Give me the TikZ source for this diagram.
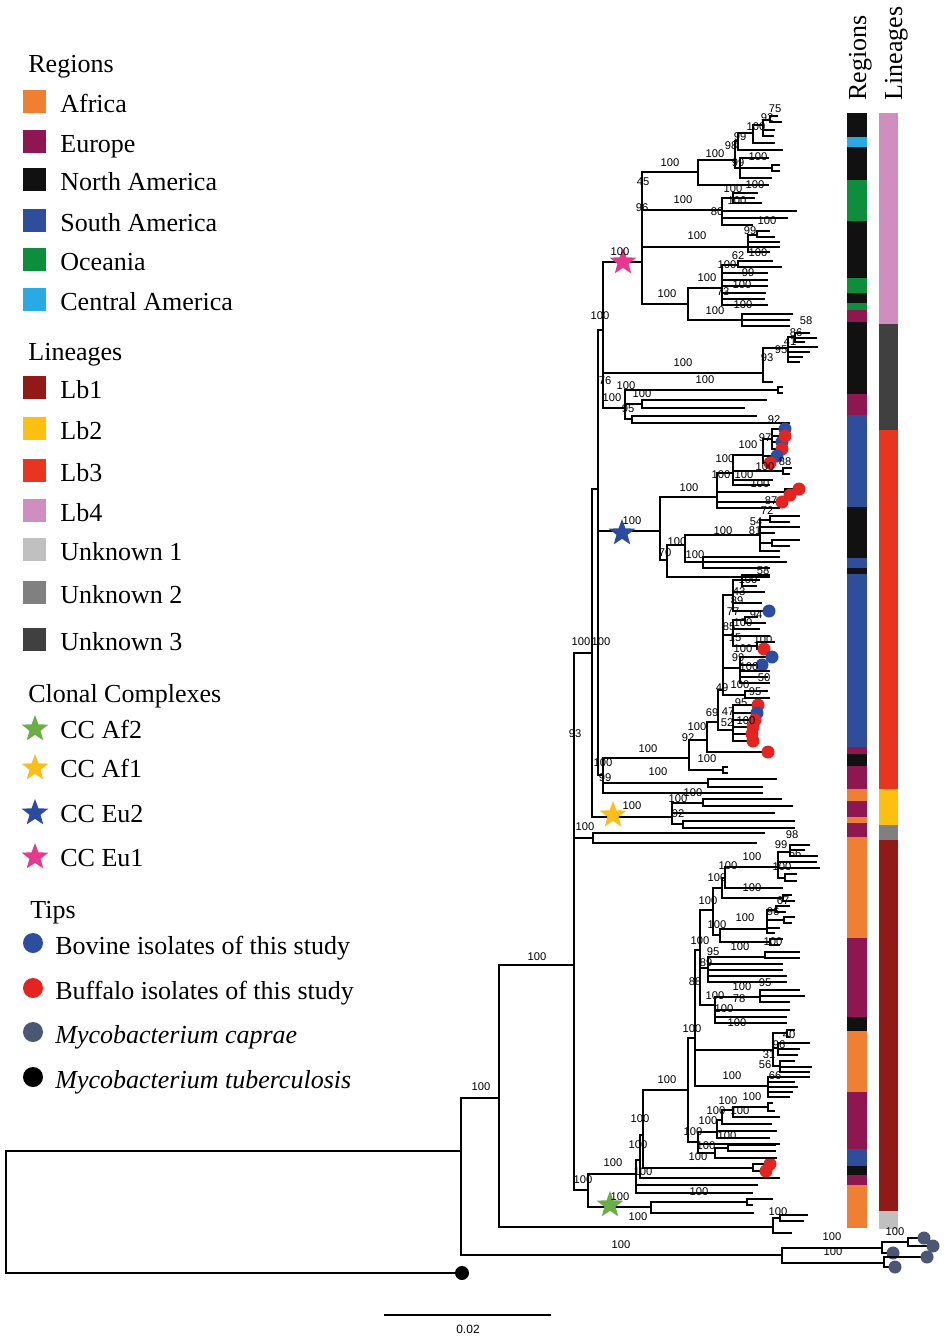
\documentclass[tikz,border=0pt]{standalone}
\usepackage{fontspec}
\setmainfont{Liberation Serif}
\newfontfamily\bsfont{Liberation Sans}
\usetikzlibrary{shapes.geometric}

\definecolor{cafr}{HTML}{EF7F33}
\definecolor{ceur}{HTML}{8E1651}
\definecolor{cnam}{HTML}{111111}
\definecolor{csam}{HTML}{2E4E9C}
\definecolor{cocn}{HTML}{0E8E3C}
\definecolor{ccam}{HTML}{2AAAE2}
\definecolor{clbone}{HTML}{921A16}
\definecolor{clbtwo}{HTML}{FCC010}
\definecolor{clbthree}{HTML}{E8351F}
\definecolor{clbfour}{HTML}{CF8DC0}
\definecolor{cunkone}{HTML}{C0C0C0}
\definecolor{cunktwo}{HTML}{808080}
\definecolor{cunkthree}{HTML}{404040}
\definecolor{staraf2}{HTML}{6CAE45}
\definecolor{staraf1}{HTML}{FBBE18}
\definecolor{stareu2}{HTML}{2B4B9E}
\definecolor{stareu1}{HTML}{E8388E}
\definecolor{bovine}{HTML}{2C4DA0}
\definecolor{buffalo}{HTML}{E42421}
\definecolor{caprae}{HTML}{4A5874}

\tikzset{
  br/.style={line width=0.9pt},
  bs/.style={font=\bsfont\fontsize{5.6}{6}\selectfont,inner sep=0pt},
  tipdot/.style={circle,inner sep=0pt,minimum size=6.5pt},
  ccstar/.style={star,star points=5,star point ratio=2.4,inner sep=0pt,minimum size=14pt},
  lgtxt/.style={font=\fontsize{13}{15}\selectfont,anchor=base west,inner sep=0pt},
  lgsq/.style={rectangle,inner sep=0pt,minimum size=11.5pt},
  lgdot/.style={circle,inner sep=0pt,minimum size=10pt}
}

% node of the tree: name, x, y, parent
\newcommand\nd[4]{\coordinate (#1) at (#2,#3);\draw[br] (#4) |- (#1);}
% tips: parent, list of y/x
\newcommand\tps[2]{\foreach \ty/\tx in {#2}{\coordinate (tp) at (\tx,\ty);\draw[br] (#1) |- (tp);}}
% tips with a dot: parent, colour, list of y/x
\newcommand\dtps[3]{\foreach \ty/\tx in {#3}{\coordinate (tp) at (\tx,\ty);\draw[br] (#1) |- (tp);\node[tipdot,fill=#2] (dot) at (tp) {};}}

\begin{document}
\begin{tikzpicture}[x=0.5pt,y=-0.5pt]
\useasboundingbox (0,0) rectangle (949,1339);

% legend
\node[lgtxt] (hreg) at (28,72) {Regions};
\foreach \ly/\lc/\lt [count=\i] in {103/cafr/Africa,143/ceur/Europe,181/cnam/North America,222/csam/South America,261/cocn/Oceania,301/ccam/Central America}{
  \node[lgsq,fill=\lc] (rgs\i) at (34.5,\ly-2) {};
  \node[lgtxt] (rgt\i) at (60,\ly+9) {\lt};
}
\node[lgtxt] (hlin) at (28,360) {Lineages};
\foreach \ly/\lc/\lt [count=\i] in {389/clbone/Lb1,430/clbtwo/Lb2,472/clbthree/Lb3,512/clbfour/Lb4,551/cunkone/Unknown 1,594/cunktwo/Unknown 2,641/cunkthree/Unknown 3}{
  \node[lgsq,fill=\lc] (lns\i) at (34.5,\ly-2) {};
  \node[lgtxt] (lnt\i) at (60,\ly+9) {\lt};
}
\node[lgtxt] (hcc) at (28,702) {Clonal Complexes};
\foreach \ly/\lc/\lt [count=\i] in {729/staraf2/CC Af2,768/staraf1/CC Af1,813/stareu2/CC Eu2,857/stareu1/CC Eu1}{
  \node[ccstar,fill=\lc] (ccs\i) at (35,\ly) {};
  \node[lgtxt] (cct\i) at (60,\ly+9) {\lt};
}
\node[lgtxt] (htip) at (30,918) {Tips};
\node[lgdot,fill=bovine] (tpd1) at (33,943) {};
\node[lgtxt] (tpt1) at (55,954) {Bovine isolates of this study};
\node[lgdot,fill=buffalo] (tpd2) at (33,988) {};
\node[lgtxt] (tpt2) at (55,999) {Buffalo isolates of this study};
\node[lgdot,fill=caprae] (tpd3) at (33,1032) {};
\node[lgtxt] (tpt3) at (55,1043) {\itshape Mycobacterium caprae};
\node[lgdot,fill=black] (tpd4) at (33,1077) {};
\node[lgtxt] (tpt4) at (55,1088) {\itshape Mycobacterium tuberculosis};

% colour bars
\node[lgtxt,rotate=90] (breg) at (866,101) {Regions};
\node[lgtxt,rotate=90] (blin) at (902,101) {Lineages};
\foreach \ya/\yb/\bc in {113/137/cnam,137/147/ccam,147/180/cnam,180/221/cocn,221/278/cnam,278/293/cocn,293/303/cnam,303/310/cocn,310/322/ceur,322/394/cnam,394/415/ceur,415/507/csam,507/558/cnam,558/568/csam,568/574/cnam,574/747/csam,747/754/ceur,754/766/cnam,766/789/ceur,789/801/cafr,801/817/ceur,817/823/cafr,823/837/ceur,837/938/cafr,938/1017/ceur,1017/1031/cnam,1031/1092/cafr,1092/1149/ceur,1149/1166/csam,1166/1175/cnam,1175/1185/ceur,1185/1228/cafr}
  \fill[\bc] (847,\ya) rectangle (867,\yb);
\foreach \ya/\yb/\bc in {113/324/clbfour,324/430/cunkthree,430/789/clbthree,789/825/clbtwo,825/840/cunktwo,840/1211/clbone,1211/1229/cunkone}
  \fill[\bc] (879,\ya) rectangle (898,\yb);

% backbone and outgroups
\coordinate (root) at (6,1212);
\nd{n461}{461}{1151}{root}
\nd{mtb}{462}{1273}{root}
\node[tipdot,fill=black,minimum size=7pt] (mtbdot) at (mtb) {};
\nd{cap}{782}{1255}{n461}
\nd{capa}{882}{1248}{cap}
\nd{capb}{884}{1263}{cap}
\nd{capc}{908}{1242}{capa}
\dtps{capc}{caprae}{1238/924,1246/933}
\dtps{capa}{caprae}{1253/893}
\dtps{capb}{caprae}{1257/927,1267/895}
\nd{n499}{499}{1098}{n461}
\nd{ua}{773}{1227}{n499}
\nd{ub}{780}{1218}{ua}
\tps{ub}{1215/808,1221/804}
\tps{ua}{1233/792}
\nd{n574}{574}{965}{n499}
\nd{n592}{592}{653}{n574}
\nd{ut}{593}{838}{n574}
\tps{ut}{833/765,843/757}
\nd{n588}{588}{1190}{n574}

% Lb1 and CC Af2
\nd{lba}{636}{1174}{n588}
\nd{afb}{651}{1207}{n588}
\nd{afc}{747}{1202}{afb}
\tps{afc}{1199/773,1205/753}
\tps{afb}{1213/754}
\nd{lbb}{640}{1160}{lba}
\tps{lba}{1185/758,1193/753}
\nd{lbc}{643}{1135}{lbb}
\tps{lbb}{1178/780}
\nd{lbd}{753}{1168}{lbc}
\dtps{lbd}{buffalo}{1164/770,1171/766}
\nd{lbe}{688}{1090}{lbc}
\nd{lbf}{695}{1038}{lbe}
\nd{lbg}{698}{1142}{lbe}
\nd{lbh}{717}{1132}{lbg}
\tps{lbg}{1144/780}
\nd{lbi}{715}{1153}{lbg}
\nd{lbj}{722}{1120}{lbh}
\tps{lbh}{1131/777,1138/770}
\nd{lbk}{733}{1110}{lbj}
\tps{lbj}{1124/772}
\nd{lbl}{768}{1107}{lbk}
\tps{lbl}{1103/773,1111/775}
\tps{lbk}{1117/780}
\nd{lbm}{728}{1148}{lbi}
\tps{lbm}{1145/776,1151/776}
\tps{lbi}{1158/777}
\nd{lbn}{700}{950}{lbf}
\nd{lbo}{773}{1050}{lbf}
\nd{lbp}{768}{1086}{lbf}
\tps{lbp}{1077/810,1082/795,1087/798,1092/793,1097/790}
\nd{lbq}{787}{1033}{lbo}
\tps{lbq}{1030/795,1037/790}
\nd{lbr}{778}{1048}{lbo}
\tps{lbr}{1043/810,1049/800,1055/798}
\nd{lbs}{780}{1066}{lbo}
\tps{lbs}{1061/795,1067/812,1072/810}
\nd{lbt}{713}{910}{lbn}
\nd{lbu}{708}{968}{lbn}
\nd{lbv}{715}{1005}{lbn}
\nd{lbw}{722}{888}{lbt}
\nd{lbx}{720}{935}{lbt}
\nd{lby}{725}{878}{lbw}
\nd{lbz}{783}{898}{lbw}
\tps{lbz}{895/792,901/795}
\nd{lca}{778}{867}{lby}
\tps{lby}{888/783}
\nd{lcb}{790}{852}{lca}
\tps{lcb}{845/810,850/805,856/818}
\tps{lca}{862/817,868/820}
\nd{lcc}{785}{878}{lca}
\tps{lcc}{874/797,881/797}
\nd{lcd}{767}{929}{lbx}
\nd{lce}{770}{942}{lbx}
\tps{lce}{939/783,945/780}
\nd{lcf}{776}{910}{lcd}
\tps{lcf}{906/790,912/786}
\nd{lcg}{784}{920}{lcd}
\tps{lcg}{917/795,923/792}
\tps{lcd}{928/780,933/775}
\nd{lch}{765}{957}{lbu}
\tps{lch}{952/800,958/800}
\tps{lbu}{964/783,970/783,976/787,982/787}
\nd{lci}{760}{997}{lbv}
\tps{lci}{990/800,996/805,1002/790}
\tps{lbv}{1010/790,1017/787,1023/787}

% Lb2 and CC Af1
\nd{afa}{672}{817}{n592}
\nd{afd}{703}{803}{afa}
\tps{afd}{799/782,806/793}
\tps{afa}{813/775}
\nd{afe}{683}{824}{afa}
\tps{afe}{821/795,828/795}

% upper part
\nd{n598}{598}{489}{n592}
\nd{eua}{603}{330}{n598}
\nd{eub}{660}{531}{n598}
\nd{sac}{603}{775}{n598}

% Lb4 and CC Eu1
\nd{eu1}{642}{262}{eua}
\nd{uka}{763}{373}{eua}
\nd{ukb}{625}{408}{eua}
\nd{eca}{698}{172}{eu1}
\nd{ecb}{722}{210}{eu1}
\nd{ecc}{748}{247}{eu1}
\nd{ecd}{688}{304}{eu1}
\nd{ece}{735}{160}{eca}
\tps{eca}{185/769}
\nd{ecf}{738}{141}{ece}
\nd{ecg}{740}{168}{ece}
\nd{ech}{753}{133}{ecf}
\tps{ecf}{150/783}
\nd{eci}{763}{125}{ech}
\tps{ech}{143/775}
\nd{ecj}{770}{120}{eci}
\tps{eci}{130/775,136/774}
\tps{ecj}{116/778,122/782}
\tps{ecg}{158/769,178/772}
\nd{eck}{772}{168}{ecg}
\tps{eck}{165/780,171/780}
\nd{ecl}{733}{198}{ecb}
\tps{ecl}{193/758,198/755,203/762}
\tps{ecb}{211/797,218/788,225/753}
\nd{ecm}{757}{235}{ecc}
\tps{ecm}{231/770,237/775}
\tps{ecc}{242/780,247/780,252/770}
\nd{ecn}{722}{288}{ecd}
\nd{eco}{742}{320}{ecd}
\nd{ecp}{738}{265}{ecn}
\tps{ecp}{261/773,267/782}
\tps{ecn}{273/768,280/768,286/768,293/766,299/765,305/768}
\tps{eco}{314/793,320/790,326/790}

% Unknown 3
\nd{ucc}{788}{348}{uka}
\tps{uka}{382/773}
\nd{ucd}{795}{337}{ucc}
\tps{ucd}{333/810,338/817,342/805}
\tps{ucc}{347/818,352/810,357/803,362/800}
\nd{uce}{778}{390}{ukb}
\tps{uce}{387/783,393/783}
\nd{ucf}{642}{404}{ukb}
\tps{ucf}{400/767,408/745}
\nd{ucg}{632}{419}{ukb}
\tps{ucg}{416/757,423/790}

% Lb3 and CC Eu2
\nd{eda}{717}{497}{eub}
\nd{edb}{667}{560}{eub}
\nd{edc}{733}{473}{eda}
\nd{edd}{785}{492}{eda}
\dtps{edd}{buffalo}{489/799,495/790}
\dtps{eda}{buffalo}{502/782}
\tps{eda}{508/780}
\nd{ede}{763}{455}{edc}
\nd{edf}{783}{471}{edc}
\tps{edf}{468/792,474/790}
\tps{edc}{480/773,485/770}
\nd{edg}{772}{439}{ede}
\dtps{edg}{bovine}{429/785,442/782}
\dtps{edg}{buffalo}{436/785,449/782}
\dtps{ede}{bovine}{456/777}
\dtps{ede}{buffalo}{463/770}
\nd{edh}{685}{545}{edb}
\tps{edb}{577/770}
\nd{edi}{760}{535}{edh}
\nd{edj}{703}{562}{edh}
\nd{edk}{770}{520}{edi}
\tps{edk}{516/800,522/790}
\tps{edi}{527/800,533/775}
\nd{edl}{772}{543}{edi}
\tps{edl}{540/800,546/790}
\tps{edi}{551/780}
\tps{edj}{557/780,562/787,568/770}

% Lb3, South America
\nd{sad}{689}{758}{sac}
\nd{sae}{708}{783}{sac}
\tps{sae}{779/777,787/763}
\tps{sac}{793/763}
\nd{saf}{707}{740}{sad}
\nd{sag}{723}{770}{sad}
\tps{sag}{767/728,773/728}
\nd{sah}{718}{722}{saf}
\dtps{saf}{buffalo}{752/768}
\nd{sai}{723}{690}{sah}
\nd{saj}{733}{730}{sah}
\dtps{saj}{buffalo}{705/758}
\dtps{saj}{bovine}{713/757}
\dtps{saj}{buffalo}{720/755,727/753,734/752,741/753}
\nd{sak}{733}{595}{sai}
\nd{sal}{733}{635}{sai}
\nd{sam}{740}{668}{sai}
\nd{san}{745}{695}{sai}
\tps{san}{691/768,698/770}
\nd{sao}{742}{580}{sak}
\tps{sao}{575/770,580/760,586/757}
\tps{sak}{592/765,603/762}
\dtps{sak}{bovine}{611/769}
\nd{sap}{745}{620}{sal}
\tps{sap}{617/758,623/766}
\tps{sal}{629/760,636/770}
\nd{saq}{757}{646}{sal}
\tps{saq}{642/775}
\dtps{saq}{buffalo}{649/764}
\dtps{sam}{bovine}{657/772,665/762}
\tps{sam}{671/770,677/768,683/770}

% clonal complex stars
\node[ccstar,fill=staraf2] (saf2) at (610,1205) {};
\node[ccstar,fill=staraf1] (saf1) at (613,815) {};
\node[ccstar,fill=stareu2] (seu2) at (622,533) {};
\node[ccstar,fill=stareu1] (seu1) at (623,262) {};

% bootstrap values
\foreach \bx/\by/\bt [count=\i] in {775/109/75,767/118/92,756/127/100,740/137/99,731/146/98,715/154/100,758/157/100,738/163/99,670/163/100,643/182/45,755/185/100,733/189/100,683/200/100,737/201/100,642/208/96,717/212/80,767/221/100,750/231/99,697/236/100,620/252/100,758/253/100,738/256/62,727/265/100,748/273/99,707/278/100,742/285/100,723/292/73,667/294/100,743/305/100,715/311/100,600/316/100,806/321/58,796/333/86,790/342/41,781/350/95,767/358/93,683/363/100,605/381/76,705/380/100,626/386/100,642/394/100,612/398/100,628/409/95}
  \node[bs] (bsa\i) at (\bx,\by) {\bt};
\foreach \bx/\by/\bt [count=\i] in {774/420/92,765/438/97,748/445/100,725/459/100,785/462/88,765/467/100,721/475/100,744/475/100,760/484/100,689/488/100,771/501/87,767/511/72,756/522/54,755/531/81,632/521/100,723/531/100,677/542/100,665/553/70,695/555/100,763/571/58,748/580/100,739/592/43,737/601/89,733/612/77,756/615/94,743/623/100,729/627/85,735/638/15,581/642/100,601/642/100,763/640/100,743/649/100,738/658/99,749/667/100,764/678/50,740/685/100,722/688/49,755/692/95,741/703/95,728/712/47,712/713/69,746/721/100,727/723/52,697/727/100,575/734/93,688/738/92,648/749/100,603/763/100,707/759/100,658/772/100,605/778/99,693/793/100,678/799/100,632/806/100,678/814/92,585/827/100}
  \node[bs] (bsb\i) at (\bx,\by) {\bt};
\foreach \bx/\by/\bt [count=\i] in {792/835/98,781/845/99,795/854/66,752/857/100,728/866/100,782/867/100,717/878/100,752/888/100,708/901/100,783/901/67,773/912/96,745/918/100,717/925/100,700/941/100,740/947/100,773/942/100,713/952/95,537/957/100,706/963/89,695/982/88,765/983/95,742/987/100,715/996/100,739/999/78,724/1009/100,737/1023/100,692/1029/100,789/1035/40,779/1045/96,769/1055/31,765/1065/56,732/1076/100,775/1076/66,667/1080/100,481/1087/100,752/1097/100,728/1101/100,716/1111/100,740/1111/100,708/1121/100,640/1119/100,693/1132/100,727/1136/100,706/1146/100,638/1145/100,698/1157/100,613/1163/100,643/1172/100,583/1180/100,699/1192/100,620/1197/100,778/1212/100,638/1217/100,895/1232/100,832/1237/100,621/1245/100,833/1252/100}
  \node[bs] (bsc\i) at (\bx,\by) {\bt};

% scale bar
\coordinate (sba) at (384,1315);
\coordinate (sbb) at (551,1315);
\draw[br] (sba) -- (sbb);
\node[bs,font=\bsfont\fontsize{6}{7}\selectfont] (sbl) at (468,1329) {0.02};
\end{tikzpicture}
\end{document}
